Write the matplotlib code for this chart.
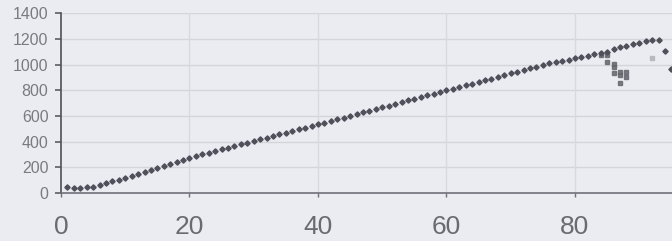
import numpy as np
import matplotlib
matplotlib.use('Agg')
import matplotlib.pyplot as plt

# main series, one point per x = 1..95
x_main = list(range(1, 96))
y_main = [44, 42, 42, 44, 46, 62, 78, 92, 103, 114,
          131, 147, 164, 181, 197, 212, 228, 244, 260, 275,
          288, 301, 314, 327, 340, 353, 366, 379, 392, 405,
          418, 431, 444, 457, 470, 483, 496, 509, 522, 535,
          548, 562, 575, 588, 601, 615, 628, 641, 654, 668,
          681, 694, 707, 721, 734, 747, 760, 774, 787, 800,
          813, 826, 839, 852, 866, 879, 892, 905, 918, 931,
          944, 957, 970, 983, 997, 1010, 1020,
          1030, 1040, 1049, 1059, 1067, 1080, 1088, 1101, 1122, 1135,
          1148, 1158, 1171, 1186, 1192, 1192, 1106, 964]

# scattered second series near the end
x_side = [84, 85, 85, 86, 86, 86, 87, 87, 87, 88, 88]
y_side = [1078, 1072, 1023, 1005, 984, 932, 945, 919, 859, 945, 906]

# faint single point
x_faint = [92]
y_faint = [1049]

x_ticks = [0, 20, 40, 60, 80]
y_ticks = [0, 200, 400, 600, 800, 1000, 1200, 1400]

bg = '#ebebf2'
fig = plt.figure(figsize=(6.72, 2.41), dpi=100, facecolor=bg)
ax = fig.add_axes([61/672, 48/241, 611/672, 179.7/241])
ax.set_facecolor(bg)

ax.plot(x_side, y_side, linestyle='none', marker='s', markersize=3.0,
        color='#66666e', alpha=0.85, zorder=3)
ax.plot(x_faint, y_faint, linestyle='none', marker='s', markersize=3.0,
        color='#b8b8c0', zorder=3)
ax.plot(x_main, y_main, linestyle='none', marker='D', markersize=2.7,
        color='#50505a', zorder=4)

ax.set_xlim(0, 95.1)
ax.set_ylim(0, 1400)
ax.set_xticks(x_ticks)
ax.set_yticks(y_ticks)

for y in y_ticks[1:]:
    ax.axhline(y, color='#d4d4da', linewidth=1.0, zorder=1)
for x in x_ticks[1:]:
    ax.axvline(x, color='#d8d8de', linewidth=1.0, zorder=1)

for s in ['top', 'right']:
    ax.spines[s].set_visible(False)
ax.spines['left'].set_color('#505058')
ax.spines['left'].set_linewidth(1.2)
ax.spines['bottom'].set_color('#707078')
ax.spines['bottom'].set_linewidth(1.2)

ax.tick_params(axis='y', direction='out', length=4, width=1.1, color='#505058',
               labelsize=11.5, labelcolor='#7a7a82', pad=5)
ax.tick_params(axis='x', direction='out', length=3, width=1.0, color='#707078',
               labelsize=19, labelcolor='#6a6a72', pad=13)
for lab in ax.get_xticklabels() + ax.get_yticklabels():
    lab.set_fontfamily('Liberation Sans')

fig.savefig('out.png', dpi=100, facecolor=bg)
